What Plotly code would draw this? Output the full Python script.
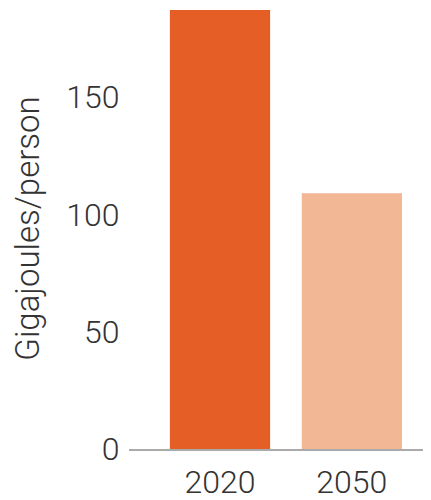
import plotly.graph_objects as go

categories = ["2020", "2050"]
values = [187, 109]
bar_colors = ["#E55E26", "#F2B795"]
y_ticks = [0, 50, 100, 150]

fig = go.Figure(go.Bar(
    x=categories, y=values,
    marker=dict(color=bar_colors, line=dict(width=0)),
))

font = dict(family="Roboto", size=32, color="#333333", weight=300)
title_font = dict(family="Roboto", size=33, color="#333333", weight=300)

# page body has an 8px default margin; figure size compensates for it
fig.update_layout(
    width=423, height=492,
    margin=dict(l=121, r=0, t=0, b=50.5, autoexpand=False),
    paper_bgcolor="white", plot_bgcolor="white",
    bargap=0.24,
    showlegend=False,
    font=font,
)
fig.update_xaxes(
    type="category", range=[-0.69, 1.6],
    showline=True, linecolor="#AAAAAA", linewidth=2,
    showgrid=False, zeroline=False,
    ticks="outside", ticklen=4, tickcolor="rgba(0,0,0,0)",
    tickfont=font, automargin=False,
)
fig.update_yaxes(
    range=[0, 187.9], tickvals=y_ticks,
    showline=False, showgrid=False, zeroline=False,
    ticks="outside", ticklen=2, tickcolor="rgba(0,0,0,0)",
    tickfont=font, automargin=False,
    title=dict(text="Gigajoules/person", font=title_font, standoff=18),
)
fig.write_html("out.html")
